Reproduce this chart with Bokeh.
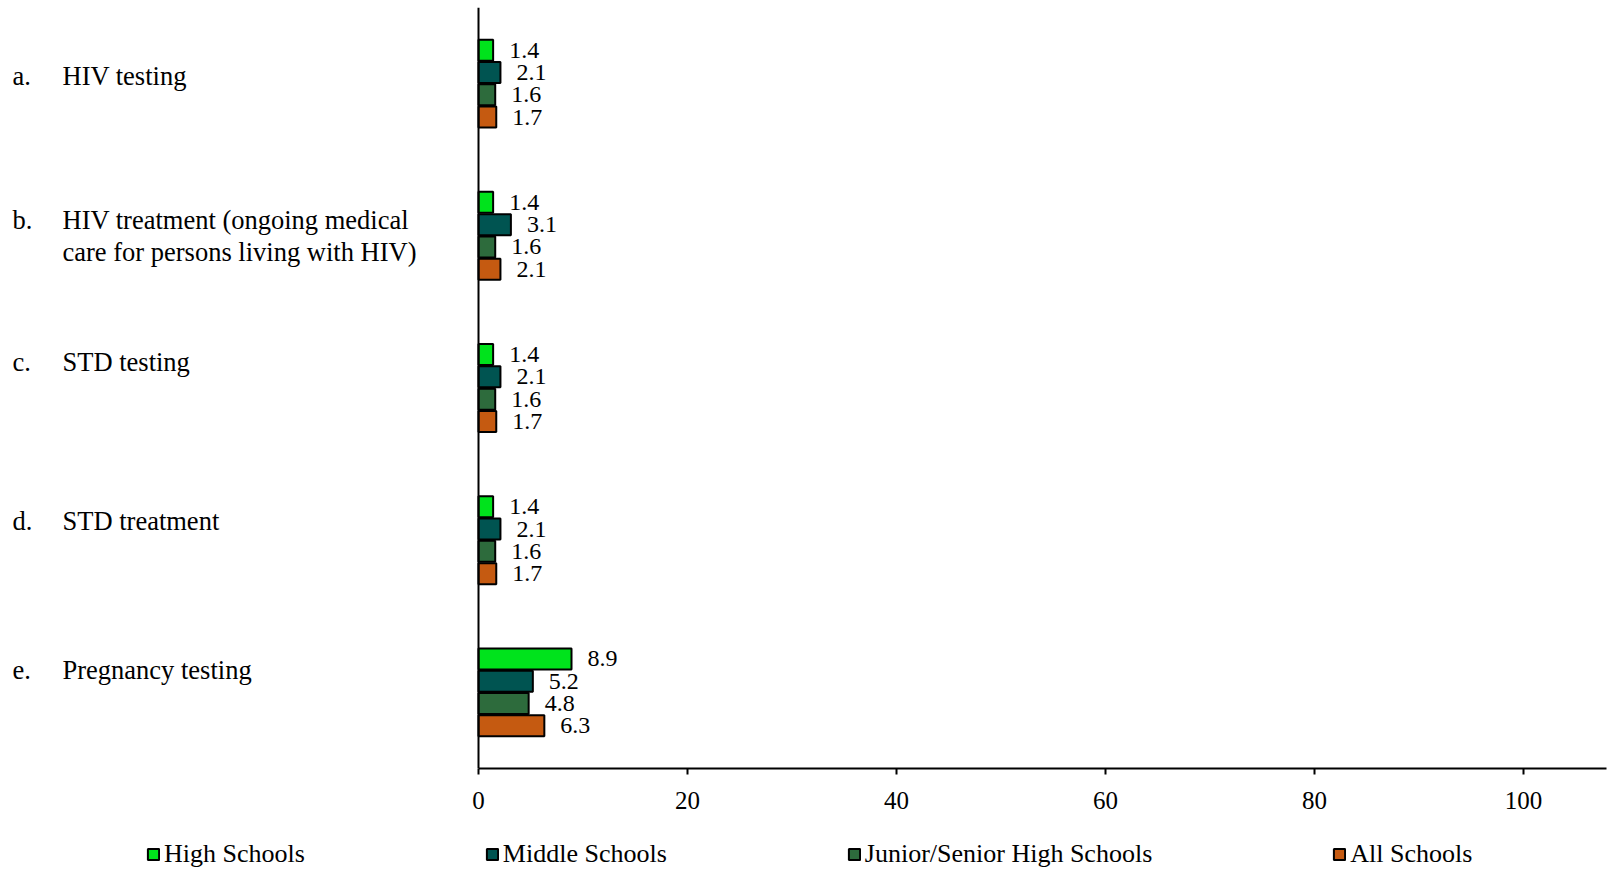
from bokeh.plotting import figure
from bokeh.layouts import column
from bokeh.models import Range1d, Span, FixedTicker, ColumnDataSource, Legend, LegendItem
from bokeh.core.properties import value
from bokeh.embed import file_html
from bokeh.resources import INLINE

# ---------------- data ----------------
letters = ["a.", "b.", "c.", "d.", "e."]
categories = [
    "HIV testing",
    "HIV treatment (ongoing medical\ncare for persons living with HIV)",
    "STD testing",
    "STD treatment",
    "Pregnancy testing",
]
series_names = ["High Schools", "Middle Schools", "Junior/Senior High Schools", "All Schools"]
high_schools = [1.4, 1.4, 1.4, 1.4, 8.9]
middle_schools = [2.1, 3.1, 2.1, 2.1, 5.2]
junior_senior = [1.6, 1.6, 1.6, 1.6, 4.8]
all_schools = [1.7, 2.1, 1.7, 1.7, 6.3]
x_ticks = [0, 20, 40, 60, 80, 100]

# ---------------- style / layout ----------------
FONT = value("Liberation Serif")
colors = ["#00E31C", "#005451", "#2D6B3C", "#C55A11"]
W = 1610
H1, H2 = 825, 44
TOP, BOTTOM = 7, 57
FRAME_H = H1 - TOP - BOTTOM
ZERO_PX = 478.0           # canvas px of x = 0
PX_PER_UNIT = 10.45
x_start = -ZERO_PX / PX_PER_UNIT
x_end = (W - ZERO_PX) / PX_PER_UNIT
axis_end = (1606 - ZERO_PX) / PX_PER_UNIT
n = len(categories)
unit_px = FRAME_H / n
bar_pitch = 22.3 / unit_px
bar_h = 21.0 / unit_px
offsets = [1.5 * bar_pitch, 0.5 * bar_pitch, -0.5 * bar_pitch, -1.5 * bar_pitch]
label_dy = [-8, -16, -26.5, -19.5, -22.5]   # vertical shift (px, down) of category labels
line_gap = 32

p = figure(width=W, height=H1, x_range=Range1d(x_start, x_end), y_range=Range1d(0, n),
           output_backend="svg", toolbar_location=None, y_axis_location=None,
           min_border_left=0, min_border_right=0, min_border_top=TOP, min_border_bottom=BOTTOM,
           outline_line_color=None, background_fill_color="white", border_fill_color="white")
p.xgrid.visible = False
p.ygrid.visible = False

cat_y = [n - 0.5 - i for i in range(n)]
all_series = [high_schools, middle_schools, junior_senior, all_schools]

for s, (vals, col, off) in enumerate(zip(all_series, colors, offsets)):
    src = ColumnDataSource(dict(
        y=[c + off for c in cat_y],
        v=vals,
        lab=[f"{v:.1f}" for v in vals],
    ))
    p.hbar(y="y", left=0, right="v", height=bar_h, source=src,
           fill_color=col, line_color="black", line_width=2)
    p.text(x="v", y="y", text="lab", source=src, x_offset=16, text_baseline="middle",
           text_align="left", text_font=FONT, text_font_size="24px", text_color="black")

# category labels
lx, ly, lt, ldy = [], [], [], []
nx, ny, nt, ndy = [], [], [], []
for i, (let, name) in enumerate(zip(letters, categories)):
    lx.append(x_start); ly.append(cat_y[i]); lt.append(let); ldy.append(label_dy[i])
    for k, line in enumerate(name.split("\n")):
        nx.append(x_start); ny.append(cat_y[i]); nt.append(line); ndy.append(label_dy[i] + k * line_gap)

p.text(x="x", y="y", text="t", y_offset="dy", source=ColumnDataSource(dict(x=lx, y=ly, t=lt, dy=ldy)),
       x_offset=12, text_baseline="alphabetic", text_font=FONT, text_font_size="26.5px", text_color="black")
p.text(x="x", y="y", text="t", y_offset="dy", source=ColumnDataSource(dict(x=nx, y=ny, t=nt, dy=ndy)),
       x_offset=62, text_baseline="alphabetic", text_font=FONT, text_font_size="26.5px", text_color="black")

# vertical axis line at x = 0
p.add_layout(Span(location=0, dimension="height", line_color="black", line_width=2))

# x axis
ax = p.xaxis[0]
ax.ticker = FixedTicker(ticks=x_ticks)
ax.bounds = (0, axis_end)
ax.axis_line_width = 2
ax.axis_line_color = "black"
ax.major_tick_line_width = 2
ax.major_tick_line_color = "black"
ax.major_tick_out = 6
ax.major_tick_in = 0
ax.minor_tick_line_color = None
ax.major_label_text_font = "Liberation Serif"
ax.major_label_text_font_size = "25px"
ax.major_label_text_color = "black"
ax.major_label_standoff = 17

# legend strip (legend keys use off-screen proxy bars)
p2 = figure(width=W, height=H2, x_range=Range1d(0, 1), y_range=Range1d(0, 1),
            output_backend="svg", toolbar_location=None, x_axis_location=None, y_axis_location=None,
            min_border=0, outline_line_color=None, background_fill_color="white", border_fill_color="white")
p2.xgrid.visible = False
p2.ygrid.visible = False
keys = []
for col in colors:
    keys.append(p2.hbar(y=[-5], left=[0], right=[0], height=0.1,
                        fill_color=col, line_color="black", line_width=2))
legend = Legend(items=[LegendItem(label=nm, renderers=[r]) for nm, r in zip(series_names, keys)],
                orientation="horizontal", location=(146, 0), margin=0, padding=0,
                spacing=180, glyph_width=14, glyph_height=14, label_standoff=4,
                label_text_font="Liberation Serif", label_text_font_size="26px",
                label_text_color="black", border_line_color=None, background_fill_alpha=0)
p2.add_layout(legend)

open("out.html", "w").write(file_html(column(p, p2, spacing=0), INLINE))
